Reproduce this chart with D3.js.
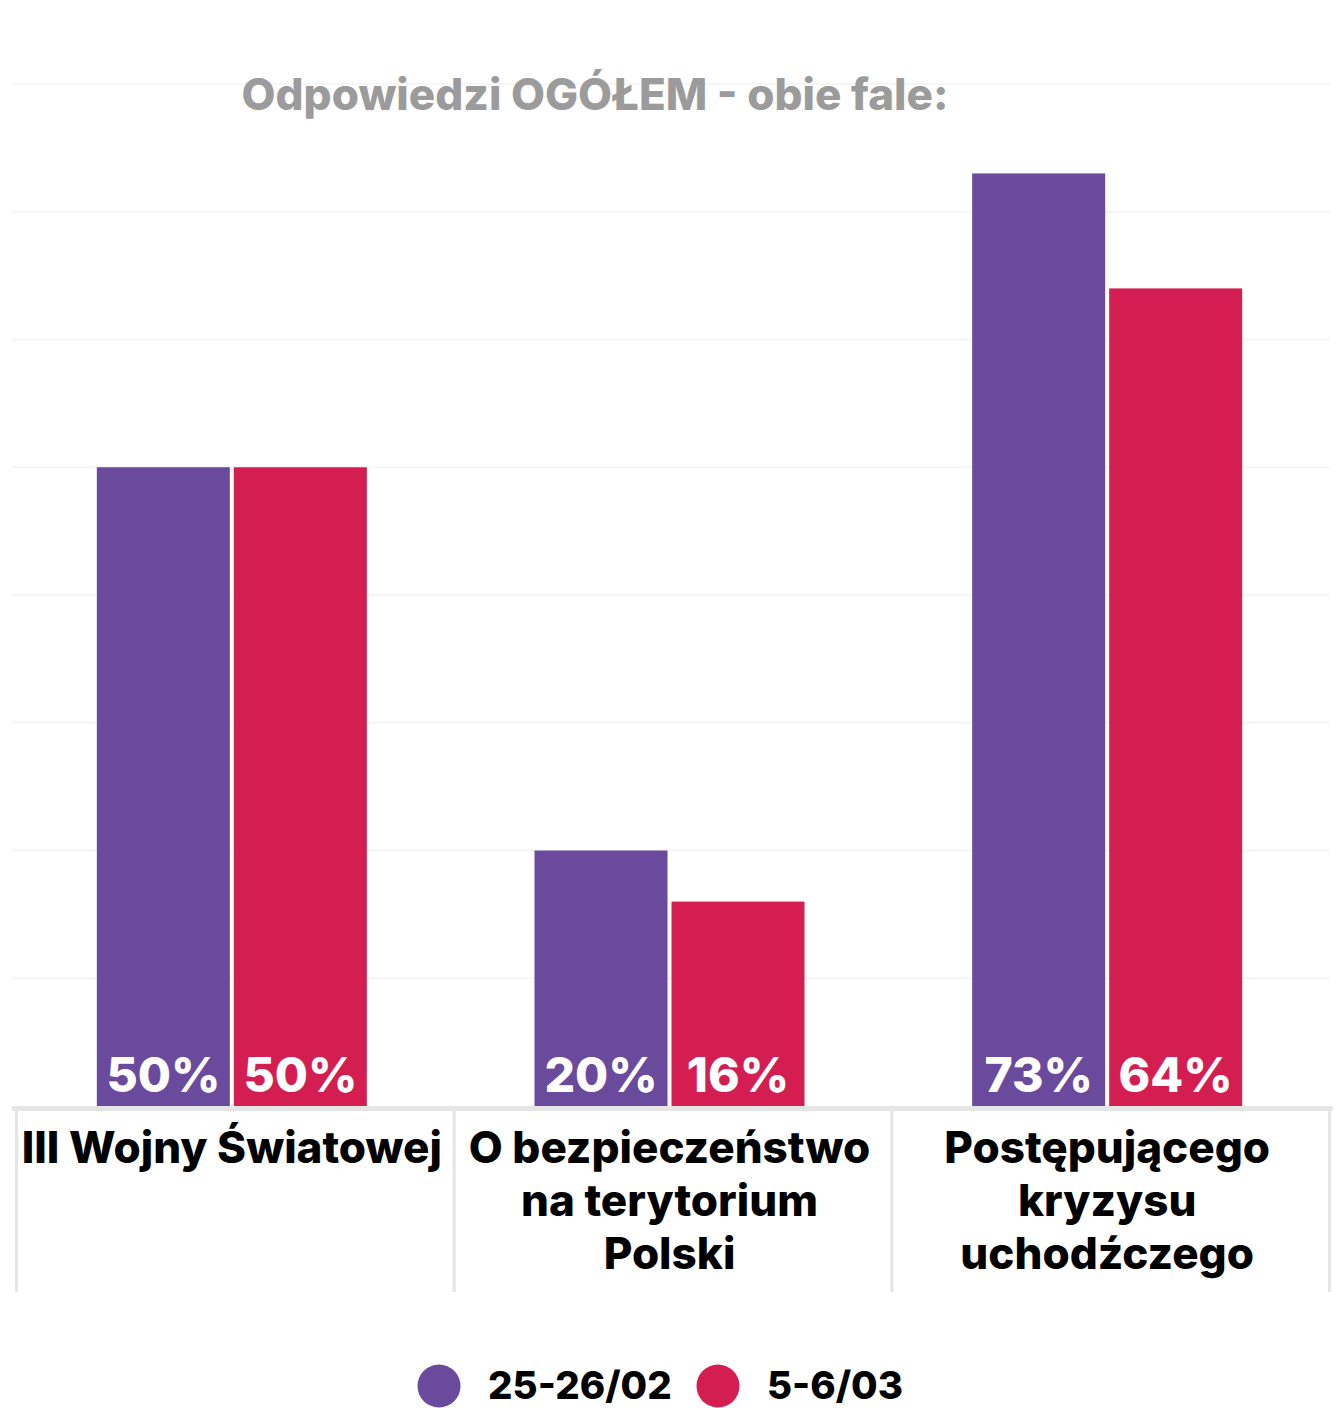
<!DOCTYPE html>
<html><head><meta charset="utf-8">
<script src="https://cdn.jsdelivr.net/npm/d3@7/dist/d3.min.js"></script>
<style>
html,body{margin:0;padding:0;background:#fff;}
svg{display:block;font-family:Inter,"Noto Sans",sans-serif;}
</style></head>
<body>
<svg id="chart" width="1341" height="1408"></svg>
<script>
const title = "Odpowiedzi OGÓŁEM - obie fale:";
const categories = ["III Wojny Światowej", "O bezpieczeństwo na terytorium Polski", "Postępującego kryzysu uchodźczego"];
const categoryLines = [["III Wojny Światowej"], ["O bezpieczeństwo", "na terytorium", "Polski"], ["Postępującego", "kryzysu", "uchodźczego"]];
const seriesNames = ["25-26/02", "5-6/03"];
const seriesColors = ["#6a4a9c", "#d41e51"];
const wave1 = [50, 20, 73];
const wave2 = [50, 16, 64];
const gridTicks = [10, 20, 30, 40, 50, 60, 70, 80];

const svg = d3.select("#chart");
const baseY = 1106;
const y = d3.scaleLinear().domain([0, 80]).range([baseY, 84]);
const x0 = d3.scaleBand().domain(categories).range([15, 1328]).padding(0);
const groupW = 270;
const x1 = d3.scaleBand().domain(seriesNames).range([0, groupW]).paddingInner(4 / 137);

// gridlines
svg.append("g").selectAll("line").data(gridTicks).join("line")
  .attr("x1", 12).attr("x2", 1330)
  .attr("y1", d => y(d)).attr("y2", d => y(d))
  .attr("stroke", "#f6f6f6").attr("stroke-width", 2.5);

// title
svg.append("text").attr("x", 595).attr("y", 110).attr("text-anchor", "middle")
  .attr("fill", "#9b9b9b").attr("font-weight", 800).attr("font-size", 44)
  .text(title);

// bars
const data = categories.map((c, i) => ({cat: c, vals: [wave1[i], wave2[i]]}));
const groups = svg.append("g").selectAll("g").data(data).join("g")
  .attr("transform", d => `translate(${x0(d.cat) + (x0.bandwidth() - groupW) / 2 - 2},0)`);
groups.selectAll("rect").data(d => d.vals.map((v, j) => ({s: seriesNames[j], v, j})))
  .join("rect")
  .attr("x", d => x1(d.s)).attr("width", x1.bandwidth())
  .attr("y", d => y(d.v)).attr("height", d => baseY - y(d.v))
  .attr("fill", d => seriesColors[d.j]);
groups.selectAll("text").data(d => d.vals.map((v, j) => ({s: seriesNames[j], v, j})))
  .join("text")
  .attr("x", d => x1(d.s) + x1.bandwidth() / 2).attr("y", 1092)
  .attr("text-anchor", "middle").attr("fill", "#fff")
  .attr("font-weight", 800).attr("font-size", 48)
  .text(d => d.v + "%");

// table lines
svg.append("rect").attr("x", 12).attr("y", 1106).attr("width", 1321).attr("height", 5).attr("fill", "#e5e5e5");
const colEdges = [x0.range()[0]].concat(categories.map(c => x0(c) + x0.bandwidth()));
svg.append("g").selectAll("rect").data(colEdges).join("rect")
  .attr("x", d => d).attr("y", 1108).attr("width", 3).attr("height", 184)
  .attr("fill", "#e5e5e5");

// category labels
const lab = svg.append("g").selectAll("text").data(categories).join("text")
  .attr("text-anchor", "middle").attr("fill", "#000")
  .attr("font-weight", 800).attr("font-size", 44);
lab.each(function(c, i) {
  d3.select(this).selectAll("tspan").data(categoryLines[i]).join("tspan")
    .attr("x", x0(c) + x0.bandwidth() / 2 - 2)
    .attr("y", (d, k) => 1163 + k * 53)
    .text(d => d);
});

// legend
const legX = [439, 718];
const leg = svg.append("g").selectAll("g").data(seriesNames).join("g");
leg.append("circle").attr("cx", (d, i) => legX[i]).attr("cy", 1386).attr("r", 21.5)
  .attr("fill", (d, i) => seriesColors[i]);
leg.append("text").attr("x", (d, i) => legX[i] + 49).attr("y", 1399)
  .attr("font-weight", 800).attr("font-size", 38.5).attr("fill", "#000")
  .text(d => d);
</script>
</body></html>
